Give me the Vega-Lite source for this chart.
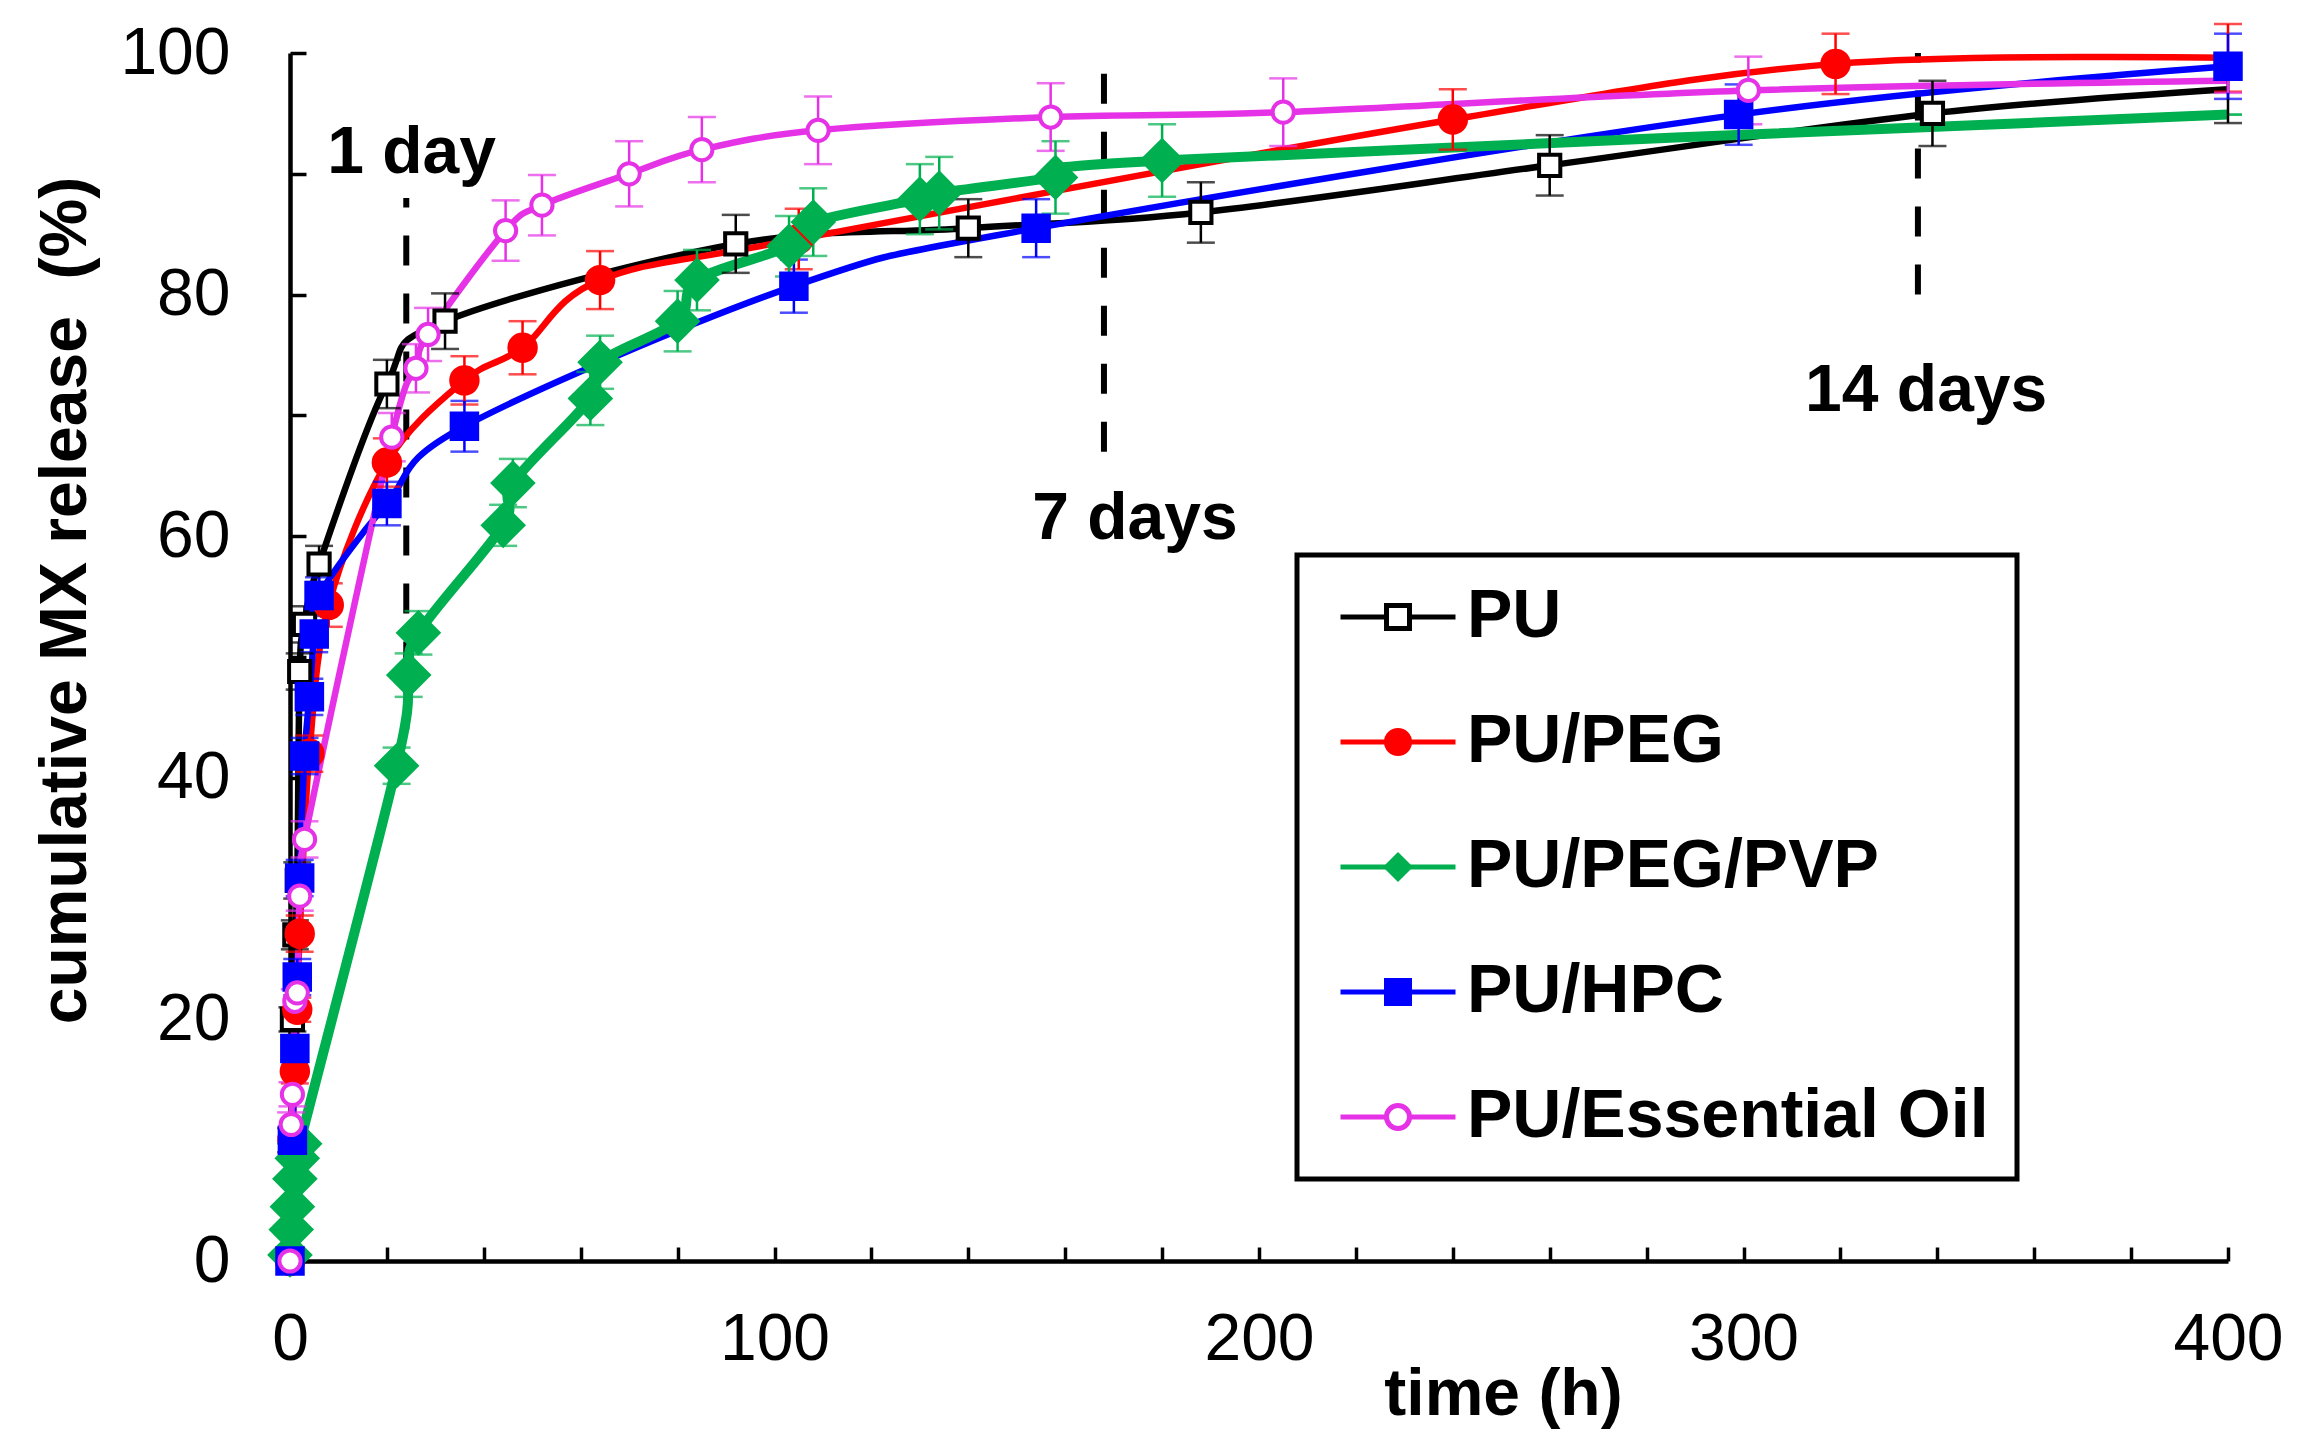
{
  "$schema": "https://vega.github.io/schema/vega-lite/v6.json",
  "width": 1938,
  "height": 1208,
  "autosize": {"type": "none"},
  "padding": {"left": 290, "top": 53, "right": 82, "bottom": 183},
  "background": "white",
  "config": {
    "font": "Liberation Sans",
    "view": {"stroke": null},
    "axis": {
      "grid": false,
      "domainColor": "black",
      "domainWidth": 4.5,
      "tickColor": "black",
      "tickWidth": 3.5,
      "labelColor": "black",
      "labelFont": "Liberation Sans",
      "labelFontSize": 66,
      "labelFlush": false,
      "labelOverlap": false,
      "titleColor": "black",
      "titleFont": "Liberation Sans",
      "titleFontSize": 66,
      "titleFontWeight": "bold"
    },
    "legend": {
      "title": null,
      "orient": "none",
      "legendX": 1007,
      "legendY": 502,
      "padding": 28,
      "strokeWidth": 5,
      "symbolOpacity": 1,
      "symbolSize": 529,
      "symbolStrokeWidth": 5,
      "symbolOffset": 39,
      "rowPadding": 57,
      "labelFont": "Liberation Sans",
      "labelFontSize": 68,
      "labelFontWeight": "bold",
      "labelColor": "black",
      "labelOffset": 35,
      "labelLimit": 1000,
      "labelBaseline": "middle"
    }
  },
  "datasets": {
    "release": [
      {"s": "PU", "t": 0, "v": 0, "e": 0.5},
      {"s": "PU", "t": 0.25, "v": 10, "e": 1},
      {"s": "PU", "t": 0.5, "v": 20, "e": 1},
      {"s": "PU", "t": 1, "v": 27, "e": 1.2},
      {"s": "PU", "t": 1.5, "v": 31.5, "e": 1.5},
      {"s": "PU", "t": 2, "v": 48.8, "e": 1.5},
      {"s": "PU", "t": 3, "v": 52.7, "e": 1.5},
      {"s": "PU", "t": 6, "v": 57.7, "e": 1.5},
      {"s": "PU", "t": 20, "v": 72.6, "e": 2},
      {"s": "PU", "t": 32, "v": 77.8, "e": 2.3},
      {"s": "PU", "t": 92, "v": 84.2, "e": 2.4},
      {"s": "PU", "t": 140, "v": 85.5, "e": 2.4},
      {"s": "PU", "t": 188, "v": 86.8, "e": 2.5},
      {"s": "PU", "t": 260, "v": 90.7, "e": 2.5},
      {"s": "PU", "t": 339, "v": 95.0, "e": 2.7},
      {"s": "PU", "t": 400, "v": 97.0, "e": 2.8},
      {"s": "PU/PEG", "t": 0, "v": 0, "e": 0.5},
      {"s": "PU/PEG", "t": 0.5, "v": 10, "e": 1},
      {"s": "PU/PEG", "t": 1, "v": 15.7, "e": 1},
      {"s": "PU/PEG", "t": 1.5, "v": 20.8, "e": 1},
      {"s": "PU/PEG", "t": 2, "v": 27.1, "e": 1.5},
      {"s": "PU/PEG", "t": 4, "v": 42, "e": 1.5},
      {"s": "PU/PEG", "t": 8, "v": 54.3, "e": 1.8},
      {"s": "PU/PEG", "t": 20, "v": 66.1, "e": 2},
      {"s": "PU/PEG", "t": 36, "v": 72.9, "e": 2},
      {"s": "PU/PEG", "t": 48, "v": 75.6, "e": 2.2},
      {"s": "PU/PEG", "t": 64, "v": 81.2, "e": 2.4},
      {"s": "PU/PEG", "t": 105, "v": 84.6, "e": 2.5},
      {"s": "PU/PEG", "t": 240, "v": 94.5, "e": 2.5},
      {"s": "PU/PEG", "t": 319, "v": 99.1, "e": 2.5},
      {"s": "PU/PEG", "t": 400, "v": 99.6, "e": 2.8},
      {"s": "PU/PEG/PVP", "t": 0, "v": 0.5, "e": 0.5},
      {"s": "PU/PEG/PVP", "t": 0.25, "v": 2.6, "e": 0.5},
      {"s": "PU/PEG/PVP", "t": 0.5, "v": 4.5, "e": 0.5},
      {"s": "PU/PEG/PVP", "t": 1, "v": 6.8, "e": 0.5},
      {"s": "PU/PEG/PVP", "t": 1.5, "v": 8.5, "e": 0.5},
      {"s": "PU/PEG/PVP", "t": 2, "v": 9.7, "e": 0.5},
      {"s": "PU/PEG/PVP", "t": 22, "v": 41.0, "e": 1.5},
      {"s": "PU/PEG/PVP", "t": 24.5, "v": 48.5, "e": 1.8},
      {"s": "PU/PEG/PVP", "t": 26.5, "v": 52.0, "e": 1.8},
      {"s": "PU/PEG/PVP", "t": 44, "v": 60.9, "e": 1.7},
      {"s": "PU/PEG/PVP", "t": 46, "v": 64.4, "e": 2},
      {"s": "PU/PEG/PVP", "t": 62, "v": 71.4, "e": 2.2},
      {"s": "PU/PEG/PVP", "t": 64, "v": 74.4, "e": 2.2},
      {"s": "PU/PEG/PVP", "t": 80, "v": 77.8, "e": 2.5},
      {"s": "PU/PEG/PVP", "t": 84, "v": 81.2, "e": 2.5},
      {"s": "PU/PEG/PVP", "t": 103, "v": 84.0, "e": 2.5},
      {"s": "PU/PEG/PVP", "t": 108, "v": 86.0, "e": 2.8},
      {"s": "PU/PEG/PVP", "t": 130, "v": 87.9, "e": 2.9},
      {"s": "PU/PEG/PVP", "t": 134, "v": 88.4, "e": 3},
      {"s": "PU/PEG/PVP", "t": 158, "v": 89.7, "e": 3},
      {"s": "PU/PEG/PVP", "t": 180, "v": 91.1, "e": 3},
      {"s": "PU/PEG/PVP", "t": 400, "v": 94.9, "e": 0},
      {"s": "PU/HPC", "t": 0, "v": 0, "e": 0.5},
      {"s": "PU/HPC", "t": 0.5, "v": 10, "e": 1},
      {"s": "PU/HPC", "t": 1, "v": 17.6, "e": 1},
      {"s": "PU/HPC", "t": 1.5, "v": 23.5, "e": 1.5},
      {"s": "PU/HPC", "t": 2, "v": 31.7, "e": 1.5},
      {"s": "PU/HPC", "t": 3, "v": 41.8, "e": 1.5},
      {"s": "PU/HPC", "t": 4, "v": 46.7, "e": 1.5},
      {"s": "PU/HPC", "t": 5, "v": 51.9, "e": 1.5},
      {"s": "PU/HPC", "t": 6, "v": 55.1, "e": 1.5},
      {"s": "PU/HPC", "t": 20, "v": 62.7, "e": 1.8},
      {"s": "PU/HPC", "t": 36, "v": 69.1, "e": 2.1},
      {"s": "PU/HPC", "t": 104, "v": 80.7, "e": 2.2},
      {"s": "PU/HPC", "t": 154, "v": 85.5, "e": 2.4},
      {"s": "PU/HPC", "t": 299, "v": 94.9, "e": 2.5},
      {"s": "PU/HPC", "t": 400, "v": 98.9, "e": 2.7},
      {"s": "PU/Essential Oil", "t": 0, "v": 0, "e": 0.3},
      {"s": "PU/Essential Oil", "t": 0.25, "v": 11.3, "e": 1},
      {"s": "PU/Essential Oil", "t": 0.5, "v": 13.8, "e": 1},
      {"s": "PU/Essential Oil", "t": 1, "v": 21.5, "e": 1},
      {"s": "PU/Essential Oil", "t": 1.5, "v": 22.2, "e": 1},
      {"s": "PU/Essential Oil", "t": 2, "v": 30.2, "e": 1.2},
      {"s": "PU/Essential Oil", "t": 3, "v": 34.9, "e": 1.5},
      {"s": "PU/Essential Oil", "t": 21, "v": 68.2, "e": 2},
      {"s": "PU/Essential Oil", "t": 26, "v": 73.9, "e": 2},
      {"s": "PU/Essential Oil", "t": 28.5, "v": 76.7, "e": 2.2},
      {"s": "PU/Essential Oil", "t": 44.5, "v": 85.3, "e": 2.5},
      {"s": "PU/Essential Oil", "t": 52, "v": 87.4, "e": 2.5},
      {"s": "PU/Essential Oil", "t": 70, "v": 90.0, "e": 2.7},
      {"s": "PU/Essential Oil", "t": 85, "v": 92.0, "e": 2.7},
      {"s": "PU/Essential Oil", "t": 109, "v": 93.6, "e": 2.8},
      {"s": "PU/Essential Oil", "t": 157, "v": 94.7, "e": 2.8},
      {"s": "PU/Essential Oil", "t": 205, "v": 95.1, "e": 2.8},
      {"s": "PU/Essential Oil", "t": 301, "v": 96.9, "e": 2.8},
      {"s": "PU/Essential Oil", "t": 400, "v": 97.7, "e": 1}
    ],
    "marks": [
      {"t": 24, "v": 44, "v2": 88},
      {"t": 168, "v": 67, "v2": 99},
      {"t": 336, "v": 80, "v2": 100}
    ],
    "notes": [
      {"label": "1 day", "t": 25.1, "v": 90.1},
      {"label": "7 days", "t": 174.4, "v": 59.8},
      {"label": "14 days", "t": 337.7, "v": 70.4}
    ]
  },
  "layer": [
    {
      "data": {"name": "marks"},
      "mark": {"type": "rule", "color": "black", "strokeWidth": 6, "strokeDash": [30, 28]},
      "encoding": {
        "x": {
          "field": "t",
          "type": "quantitative",
          "title": "time (h)",
          "scale": {"domain": [0, 400], "nice": false},
          "axis": {
            "values": [0, 20, 40, 60, 80, 100, 120, 140, 160, 180, 200, 220, 240, 260, 280, 300, 320, 340, 360, 380, 400],
            "labelExpr": "datum.value % 100 === 0 ? datum.label : ''",
            "tickSize": -14,
            "labelPadding": 60,
            "labelBaseline": "top",
            "titleX": 1213,
            "titleY": 153,
            "titleBaseline": "alphabetic",
            "titleAlign": "center"
          }
        },
        "y": {
          "field": "v",
          "type": "quantitative",
          "title": "cumulative MX release\u00a0 (%)",
          "scale": {"domain": [0, 100], "nice": false},
          "axis": {
            "values": [0, 10, 20, 30, 40, 50, 60, 70, 80, 90, 100],
            "labelExpr": "datum.value % 20 === 0 ? datum.label : ''",
            "tickSize": -16,
            "labelPadding": 76,
            "titleX": -205,
            "titleY": 547,
            "titleBaseline": "alphabetic",
            "titleAlign": "center",
            "titleAngle": 270
          }
        },
        "y2": {"field": "v2"}
      }
    },
    {
      "data": {"name": "notes"},
      "mark": {"type": "text", "fontSize": 66, "fontWeight": "bold", "color": "black", "align": "center", "baseline": "alphabetic"},
      "encoding": {
        "x": {"field": "t", "type": "quantitative", "title": "time (h)"},
        "y": {"field": "v", "type": "quantitative", "title": "cumulative MX release\u00a0 (%)"},
        "text": {"field": "label"}
      }
    },
    {
      "data": {"name": "release"},
      "transform": [{"filter": "datum.s !== 'PU/PEG/PVP'"}],
      "mark": {"type": "line", "interpolate": "cardinal", "strokeWidth": 6.5},
      "encoding": {
        "x": {"field": "t", "type": "quantitative", "title": "time (h)"},
        "y": {"field": "v", "type": "quantitative", "title": "cumulative MX release\u00a0 (%)"},
        "color": {
          "field": "s",
          "type": "nominal",
          "sort": ["PU", "PU/PEG", "PU/PEG/PVP", "PU/HPC", "PU/Essential Oil"],
          "scale": {"range": ["#000000", "#FF0000", "#00B050", "#0000FF", "#E632E6"]},
          "legend": {
            "symbolType": "M-5,0H5",
            "labelOpacity": 0
          }
        }
      }
    },
    {
      "data": {"name": "release"},
      "transform": [{"filter": "datum.s === 'PU/PEG/PVP'"}],
      "mark": {"type": "line", "interpolate": "cardinal", "strokeWidth": 10},
      "encoding": {
        "x": {"field": "t", "type": "quantitative", "title": "time (h)"},
        "y": {"field": "v", "type": "quantitative", "title": "cumulative MX release\u00a0 (%)"},
        "color": {
          "field": "s",
          "type": "nominal",
          "sort": ["PU", "PU/PEG", "PU/PEG/PVP", "PU/HPC", "PU/Essential Oil"]
        }
      }
    },
    {
      "data": {"name": "release"},
      "mark": {"type": "errorbar", "thickness": 2.5, "ticks": {"size": 28, "thickness": 2.5}},
      "encoding": {
        "x": {"field": "t", "type": "quantitative", "title": "time (h)"},
        "y": {"field": "v", "type": "quantitative", "title": "cumulative MX release\u00a0 (%)"},
        "yError": {"field": "e"},
        "color": {
          "field": "s",
          "type": "nominal",
          "sort": ["PU", "PU/PEG", "PU/PEG/PVP", "PU/HPC", "PU/Essential Oil"]
        }
      }
    },
    {
      "data": {"name": "release"},
      "transform": [{"filter": "datum.t < 400 || datum.s === 'PU/HPC'"}],
      "mark": {"type": "point", "filled": true, "opacity": 1, "strokeWidth": 4},
      "encoding": {
        "x": {"field": "t", "type": "quantitative", "title": "time (h)"},
        "y": {"field": "v", "type": "quantitative", "title": "cumulative MX release\u00a0 (%)"},
        "stroke": {
          "field": "s",
          "type": "nominal",
          "scale": {
            "domain": ["PU", "PU/PEG", "PU/PEG/PVP", "PU/HPC", "PU/Essential Oil"],
            "range": ["#000000", "#FF0000", "#00B050", "#0000FF", "#E632E6"]
          }
        },
        "fill": {
          "field": "s",
          "type": "nominal",
          "scale": {
            "domain": ["PU", "PU/PEG", "PU/PEG/PVP", "PU/HPC", "PU/Essential Oil"],
            "range": ["#FFFFFF", "#FF0000", "#00B050", "#0000FF", "#FFFFFF"]
          },
          "legend": {
            "strokeColor": "black"
          }
        },
        "shape": {
          "field": "s",
          "type": "nominal",
          "scale": {
            "domain": ["PU", "PU/PEG", "PU/PEG/PVP", "PU/HPC", "PU/Essential Oil"],
            "range": ["square", "circle", "diamond", "square", "circle"]
          }
        },
        "size": {
          "field": "s",
          "type": "nominal",
          "scale": {
            "type": "ordinal",
            "domain": ["PU/Essential Oil", "PU/HPC", "PU/PEG/PVP", "PU/PEG", "PU"],
            "range": [450, 650, 1600, 700, 450]
          },
          "legend": null
        }
      }
    }
  ]
}
